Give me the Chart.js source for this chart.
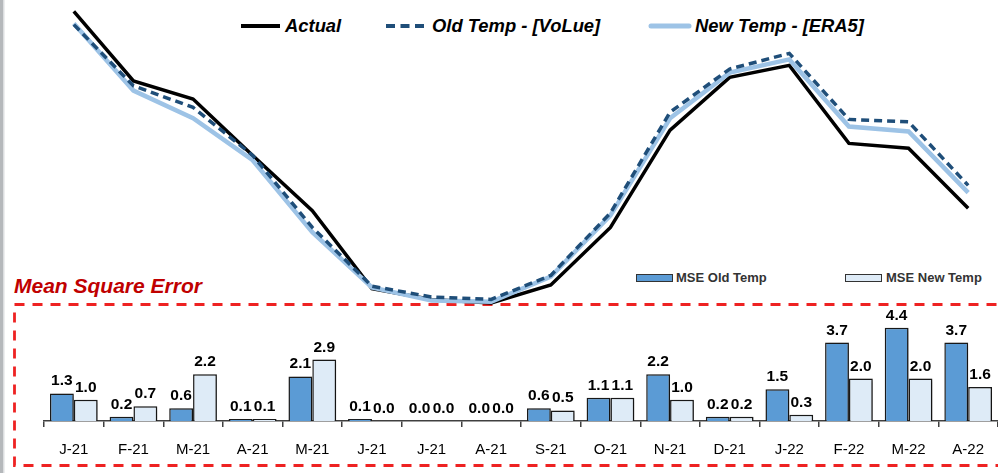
<!DOCTYPE html>
<html>
<head>
<meta charset="utf-8">
<script src="https://cdn.jsdelivr.net/npm/chart.js@4.4.1/dist/chart.umd.min.js"></script>
<style>
  html, body { margin: 0; padding: 0; background: #fff; }
  #wrap { position: relative; width: 998px; height: 473px; overflow: hidden; }
  #wrap svg, #wrap canvas { position: absolute; left: 0; }
  #decor { top: 0; }
  #tempChart { top: 0; }
  #mseChart { top: 300px; }
</style>
</head>
<body>
<div id="wrap">
  <svg id="decor" width="998" height="473" font-family="'Liberation Sans', Arial, sans-serif">
    <rect x="0" y="0" width="3" height="473" fill="#b5b8bb"/>
    <rect x="3" y="0" width="1.5" height="473" fill="#dcdee0"/>

    <!-- MSE panel frame and title -->
    <rect x="14.5" y="304.5" width="1000" height="161" fill="none" stroke="#ee2222" stroke-width="2.8" stroke-dasharray="10 8"/>
    <text x="14" y="293" font-size="21" font-weight="bold" font-style="italic" fill="#c00000">Mean Square Error</text>

    <!-- line legend -->
    <line x1="241" y1="26" x2="280" y2="26" stroke="#000" stroke-width="4"/>
    <text x="285" y="32" font-size="18.4" font-weight="bold" font-style="italic" fill="#000">Actual</text>
    <line x1="386" y1="26" x2="425" y2="26" stroke="#1f4e79" stroke-width="4" stroke-dasharray="9 5.5"/>
    <text x="432" y="32" font-size="18.4" font-weight="bold" font-style="italic" fill="#000">Old Temp - [VoLue]</text>
    <line x1="651" y1="26" x2="689" y2="26" stroke="#9dc3e6" stroke-width="5" stroke-linecap="round"/>
    <text x="695" y="32" font-size="18.4" font-weight="bold" font-style="italic" fill="#000">New Temp - [ERA5]</text>

    <!-- bar legend -->
    <rect x="636.5" y="274.5" width="36" height="7" fill="#5b9bd5" stroke="#333" stroke-width="1"/>
    <text x="676" y="282" font-size="13" font-weight="bold" fill="#333">MSE Old Temp</text>
    <rect x="845.5" y="274.5" width="36" height="7" fill="#deebf7" stroke="#333" stroke-width="1"/>
    <text x="886" y="282" font-size="13" font-weight="bold" fill="#333">MSE New Temp</text>
  </svg>
  <canvas id="tempChart" width="1004" height="320"></canvas>
  <canvas id="mseChart" width="1004" height="173"></canvas>
</div>
<script>
// Monthly temperatures: actual vs old feed (VoLue) vs new feed (ERA5)
const MONTHS   = ['J-21','F-21','M-21','A-21','M-21','J-21','J-21','A-21','S-21','O-21','N-21','D-21','J-22','F-22','M-22','A-22'];
const ACTUAL   = [25.3, 19.5, 18.0, 13.3, 8.7, 2.2, 1.3, 1.0, 2.5, 7.3, 15.4, 19.8, 20.8, 14.3, 13.9, 8.9];
const OLD_TEMP = [24.2, 19.1, 17.3, 13.3, 7.3, 2.4, 1.5, 1.3, 3.3, 8.5, 16.9, 20.5, 21.8, 16.3, 16.1, 10.8];
const NEW_TEMP = [24.3, 18.7, 16.4, 12.9, 6.9, 2.3, 1.2, 1.1, 3.2, 8.3, 16.4, 20.2, 21.3, 15.7, 15.3, 10.2];

// Mean square error per month for each feed
const MSE_OLD = [1.3, 0.2, 0.6, 0.1, 2.1, 0.1, 0.0, 0.0, 0.6, 1.1, 2.2, 0.2, 1.5, 3.7, 4.4, 3.7];
const MSE_NEW = [1.0, 0.7, 2.2, 0.1, 2.9, 0.0, 0.0, 0.0, 0.5, 1.1, 1.0, 0.2, 0.3, 2.0, 2.0, 1.6];

const FONT = "'Liberation Sans', Arial, sans-serif";

new Chart(document.getElementById('tempChart'), {
  type: 'line',
  data: {
    labels: MONTHS,
    datasets: [
      { label: 'Actual', data: ACTUAL, borderColor: '#000', borderWidth: 3.5, order: 2 },
      { label: 'Old Temp - [VoLue]', data: OLD_TEMP, borderColor: '#1f4e79', borderWidth: 3.5, borderDash: [8, 5], order: 0 },
      { label: 'New Temp - [ERA5]', data: NEW_TEMP, borderColor: '#9dc3e6', borderWidth: 4.5, order: 1 }
    ]
  },
  options: {
    responsive: false, animation: false,
    layout: { padding: { left: 44, right: 6, top: 0, bottom: 5 } },
    elements: { point: { radius: 0 }, line: { tension: 0 } },
    datasets: { line: { clip: false } },
    plugins: { legend: { display: false }, tooltip: { enabled: false } },
    scales: {
      x: { display: false, offset: true },
      y: { display: false, min: 0, max: 26.25 }
    }
  }
});

// soft drop shadow under the bars, then value labels on top
const barValues = {
  id: 'barValues',
  beforeDatasetsDraw(chart) {
    const ctx = chart.ctx;
    ctx.save();
    ctx.shadowColor = 'rgba(0,0,0,0.3)';
    ctx.shadowBlur = 4;
    ctx.shadowOffsetX = 3;
    ctx.shadowOffsetY = 1;
  },
  afterDatasetsDraw(chart) {
    const ctx = chart.ctx;
    ctx.restore();
    ctx.save();
    ctx.font = 'bold 15.5px ' + FONT;
    ctx.fillStyle = '#000';
    ctx.textAlign = 'center';
    ctx.textBaseline = 'alphabetic';
    chart.data.datasets.forEach((ds, i) => {
      chart.getDatasetMeta(i).data.forEach((bar, j) => {
        ctx.fillText(ds.data[j].toFixed(1), bar.x, bar.y - 8);
      });
    });
    ctx.restore();
  }
};

new Chart(document.getElementById('mseChart'), {
  type: 'bar',
  data: {
    labels: MONTHS,
    datasets: [
      { label: 'MSE Old Temp', data: MSE_OLD, backgroundColor: '#5b9bd5' },
      { label: 'MSE New Temp', data: MSE_NEW, backgroundColor: '#deebf7' }
    ]
  },
  options: {
    responsive: false, animation: false,
    layout: { padding: { left: 44, right: 6, top: 15, bottom: 0 } },
    datasets: { bar: { categoryPercentage: 0.8, barPercentage: 1, borderColor: '#1a1a1a', borderWidth: 1.5 } },
    plugins: { legend: { display: false }, tooltip: { enabled: false } },
    scales: {
      x: {
        grid: { display: true, drawOnChartArea: false, drawTicks: true, tickLength: 6, color: '#404040', lineWidth: 1.5, offset: true },
        border: { display: true, color: '#404040', width: 1.5 },
        ticks: { color: '#000', font: { family: FONT, size: 15 }, padding: 14, maxRotation: 0, autoSkip: false }
      },
      y: { display: false, min: 0, max: 5 }
    }
  },
  plugins: [barValues]
});
</script>
</body>
</html>
